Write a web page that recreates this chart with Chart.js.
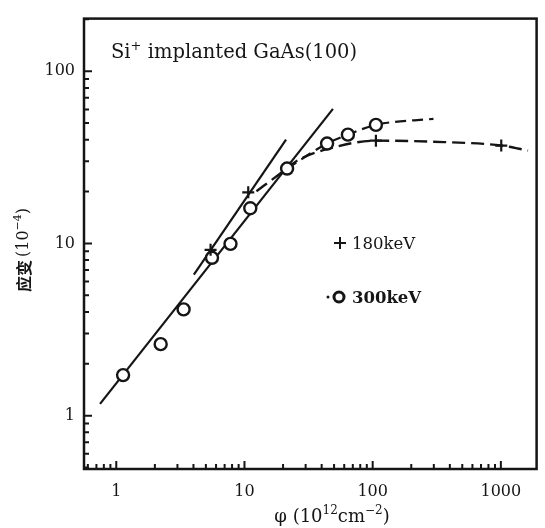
<!DOCTYPE html>
<html>
<head>
<meta charset="utf-8">
<script src="https://cdn.jsdelivr.net/npm/chart.js@4.4.0/dist/chart.umd.min.js"></script>
<style>
  html, body { margin: 0; padding: 0; background: #fff; }
</style>
</head>
<body>
<canvas id="chart" width="545" height="528"></canvas>
<script>
// tick labels
const xTicks = [1, 10, 100, 1000];
const yTicks = [1, 10, 100];

// measured points, 300 keV (open circles)
const dose300 = [1.13, 2.22, 3.35, 5.58, 7.78, 11.1, 21.5, 44.1, 64.1, 106];
const strain300 = [1.72, 2.60, 4.14, 8.25, 9.94, 16.0, 27.2, 38.0, 42.8, 48.8];

// measured points, 180 keV (crosses)
const dose180 = [5.44, 10.7, 106, 1007];
const strain180 = [9.18, 19.8, 39.5, 37.0];

// straight fit lines (solid)
const fit300Dose = [0.747, 49.0];
const fit300Strain = [1.17, 60.4];
const fit180Dose = [4.03, 21.1];
const fit180Strain = [6.58, 40.0];

// saturation curves (dashed)
const sat300Dose = [21.5, 44.1, 64.1, 106, 298];
const sat300Strain = [27.2, 38.0, 42.8, 48.8, 52.9];
const sat180Dose = [12.4, 18.7, 26.7, 45.6, 106, 273, 1007, 1629];
const sat180Strain = [20.1, 25.2, 30.7, 35.5, 39.5, 39.0, 37.0, 34.6];

const ink = '#151515';
const serif = '"DejaVu Serif", serif';

const pts = (xs, ys) => xs.map((v, i) => ({ x: v, y: ys[i] }));

// draw text with superscript parts
function richText(ctx, parts, x, y, size, align, weight) {
  const fontOf = p => (weight || 'normal') + ' ' + (p.sup ? Math.round(size * 0.65) : size) + 'px ' + serif;
  let w = 0;
  parts.forEach(p => { ctx.font = fontOf(p); w += ctx.measureText(p.t).width; });
  let cx = align === 'center' ? x - w / 2 : x;
  ctx.textAlign = 'left';
  ctx.textBaseline = 'alphabetic';
  parts.forEach(p => {
    ctx.font = fontOf(p);
    ctx.fillText(p.t, cx, p.sup ? y - size * 0.42 : y);
    cx += ctx.measureText(p.t).width;
  });
}

// frame, inward ticks, title, legend and axis titles
const overlay = {
  id: 'overlay',
  afterDraw(chart) {
    const { ctx, chartArea: a, scales: { x, y } } = chart;
    ctx.save();
    ctx.strokeStyle = ink;
    ctx.fillStyle = ink;
    ctx.lineWidth = 2.5;
    ctx.strokeRect(a.left, a.top, a.right - a.left, a.bottom - a.top);

    ctx.lineWidth = 2;
    ctx.beginPath();
    for (let e = -1; e <= 3; e++) {
      for (let k = 1; k <= 9; k++) {
        const v = k * Math.pow(10, e);
        const len = k === 1 ? 8 : 5;
        if (v > x.min && v < x.max) {
          const px = x.getPixelForValue(v);
          ctx.moveTo(px, a.bottom);
          ctx.lineTo(px, a.bottom - len);
        }
        if (v > y.min && v < y.max) {
          const py = y.getPixelForValue(v);
          ctx.moveTo(a.left, py);
          ctx.lineTo(a.left + len, py);
        }
      }
    }
    ctx.stroke();

    // title inside the plot
    richText(ctx, [{ t: 'Si' }, { t: '+', sup: true }, { t: ' implanted GaAs(100)' }], 111, 58, 19.5, 'left');

    // legend
    ctx.lineWidth = 2;
    ctx.beginPath();
    ctx.moveTo(334, 243); ctx.lineTo(346, 243);
    ctx.moveTo(340, 237); ctx.lineTo(340, 249);
    ctx.stroke();
    richText(ctx, [{ t: '180keV' }], 352, 249, 16.5, 'left');

    ctx.beginPath();
    ctx.arc(328, 297, 1.5, 0, Math.PI * 2);
    ctx.fill();
    ctx.lineWidth = 3;
    ctx.beginPath();
    ctx.arc(339, 297, 5, 0, Math.PI * 2);
    ctx.stroke();
    richText(ctx, [{ t: '300keV' }], 352, 303, 16.5, 'left', 'bold');

    // x axis title
    richText(ctx, [{ t: 'φ (10' }, { t: '12', sup: true }, { t: 'cm' }, { t: '−2', sup: true }, { t: ')' }], 332, 522, 18, 'center');

    // y axis title, rotated
    ctx.translate(24, 250);
    ctx.rotate(-Math.PI / 2);
    ctx.textBaseline = 'middle';
    const label = '应变';
    ctx.font = 'bold 16px "Noto Sans CJK SC", sans-serif';
    const w1 = ctx.measureText(label).width;
    ctx.font = '16px ' + serif;
    const w2 = ctx.measureText('(10').width;
    ctx.font = '11px ' + serif;
    const w3 = ctx.measureText('−4').width;
    ctx.font = '16px ' + serif;
    const w4 = ctx.measureText(')').width;
    let cx = -(w1 + 3 + w2 + w3 + w4) / 2;
    ctx.textAlign = 'left';
    ctx.font = 'bold 16px "Noto Sans CJK SC", sans-serif';
    ctx.fillText(label, cx, 0); cx += w1 + 3;
    ctx.font = '16px ' + serif;
    ctx.fillText('(10', cx, 0); cx += w2;
    ctx.font = '11px ' + serif;
    ctx.fillText('−4', cx, -6); cx += w3;
    ctx.font = '16px ' + serif;
    ctx.fillText(')', cx, 0);
    ctx.restore();
  }
};

new Chart(document.getElementById('chart').getContext('2d'), {
  type: 'scatter',
  data: {
    datasets: [
      {
        label: '180keV',
        data: pts(dose180, strain180),
        pointStyle: 'cross',
        pointRadius: 6,
        borderWidth: 2.2,
        borderColor: ink,
        showLine: false
      },
      {
        label: '300keV',
        data: pts(dose300, strain300),
        pointStyle: 'circle',
        pointRadius: 6,
        borderWidth: 2.4,
        borderColor: ink,
        backgroundColor: '#fff',
        showLine: false
      },
      {
        data: pts(fit300Dose, fit300Strain),
        showLine: true,
        pointRadius: 0,
        borderWidth: 2.2,
        borderColor: ink
      },
      {
        data: pts(fit180Dose, fit180Strain),
        showLine: true,
        pointRadius: 0,
        borderWidth: 2.2,
        borderColor: ink
      },
      {
        data: pts(sat300Dose, sat300Strain),
        showLine: true,
        pointRadius: 0,
        borderWidth: 2.2,
        borderColor: ink,
        borderDash: [11, 6],
        cubicInterpolationMode: 'monotone'
      },
      {
        data: pts(sat180Dose, sat180Strain),
        showLine: true,
        pointRadius: 0,
        borderWidth: 2.4,
        borderColor: ink,
        borderDash: [13, 6],
        cubicInterpolationMode: 'monotone'
      }
    ]
  },
  options: {
    responsive: false,
    animation: false,
    layout: { padding: { top: 15, right: 6, left: 0, bottom: 0 } },
    plugins: {
      legend: { display: false },
      tooltip: { enabled: false }
    },
    scales: {
      x: {
        type: 'logarithmic',
        min: 0.56,
        max: 1900,
        grid: { display: false, drawTicks: false },
        border: { display: false },
        afterBuildTicks: s => { s.ticks = xTicks.map(v => ({ value: v })); },
        afterFit: s => { s.height = 59; },
        ticks: {
          padding: 13,
          color: ink,
          autoSkip: false,
          maxRotation: 0,
          font: { family: serif, size: 16 },
          callback: v => String(v)
        }
      },
      y: {
        type: 'logarithmic',
        min: 0.49,
        max: 202,
        grid: { display: false, drawTicks: false },
        border: { display: false },
        afterBuildTicks: s => { s.ticks = yTicks.map(v => ({ value: v })); },
        afterFit: s => { s.width = 84; },
        ticks: {
          padding: 9,
          color: ink,
          autoSkip: false,
          font: { family: serif, size: 16 },
          callback: v => String(v)
        }
      }
    }
  },
  plugins: [overlay]
});
</script>
</body>
</html>
